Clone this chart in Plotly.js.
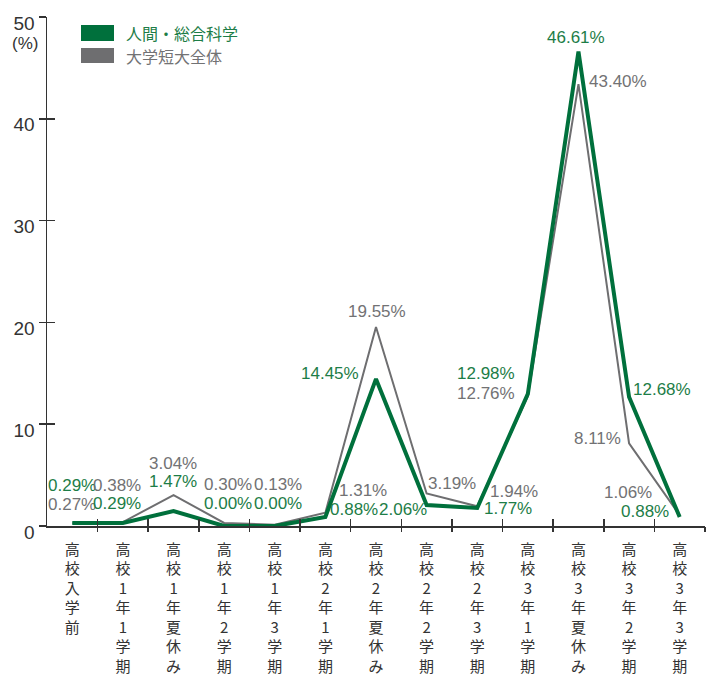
<!DOCTYPE html>
<html><head><meta charset="utf-8">
<script src="https://cdn.plot.ly/plotly-3.0.1.min.js"></script>
<style>html,body{margin:0;padding:0;background:#fff}</style>
</head><body><div id="chart" style="width:710px;height:677px"></div>
<script>
// ---- data ----
var categories = ['高校入学前','高校1年1学期','高校1年夏休み','高校1年2学期','高校1年3学期','高校2年1学期','高校2年夏休み','高校2年2学期','高校2年3学期','高校3年1学期','高校3年夏休み','高校3年2学期','高校3年3学期'];
var seriesNames = ['人間・総合科学','大学短大全体'];
var greenValues = [0.29,0.29,1.47,0.00,0.00,0.88,14.45,2.06,1.77,12.98,46.61,12.68,0.88];
var greyValues  = [0.27,0.38,3.04,0.30,0.13,1.31,19.55,3.19,1.94,12.76,43.40,8.11,1.06];
var yTicks = [0,10,20,30,40,50];

// label offsets (pixels) relative to each point
var greenDX = [0,-6,-1,4,3.5,29,-46,-24,31,-42,-2,33,-35];
var greenDY = [38,20,30,23,23,8,5,-4,-1,20,14.5,7,6];
var greyDX  = [0,-6,-1,4,3.5,38,1,25,37,-42,40,-32,-52];
var greyDY  = [19,37,32,38,40,22,15,10,15,3,3,5,23];

var GREEN = '#00703c', GREY = '#6e6e70';
var GREEN_T = '#1d7d47', GREY_T = '#727274';
var AX = '#333333';
var L = 47, R = 5, T = 17, B = 151, W = 710, H = 677;
var pw = W - L - R, ph = H - T - B;
function px2x(p){ return (p - L) / pw; }
function py2y(p){ return (H - B - p) / ph; }

var idx = categories.map(function(_, i){ return i; });
var vertical = categories.map(function(c){ return c.split('').join('<br>'); });

var traces = [
  {x: idx, y: greyValues, type: 'scatter', mode: 'lines', name: seriesNames[1],
   line: {color: GREY, width: 2}, hoverinfo: 'skip'},
  {x: idx, y: greenValues, type: 'scatter', mode: 'lines', name: seriesNames[0],
   line: {color: GREEN, width: 4}, hoverinfo: 'skip'},
  {x: [], y: [], xaxis: 'x2', yaxis: 'y2', type: 'scatter', showlegend: false},
  {x: [], y: [], xaxis: 'x3', yaxis: 'y3', type: 'scatter', showlegend: false}
];

var annotations = [];
idx.forEach(function(i){
  annotations.push({x: i, y: greenValues[i], xref: 'x', yref: 'y', showarrow: false,
    text: greenValues[i].toFixed(2) + '%', xshift: greenDX[i], yshift: greenDY[i],
    font: {family: 'Liberation Sans, Arial, sans-serif', size: 17, color: GREEN_T}});
  annotations.push({x: i, y: greyValues[i], xref: 'x', yref: 'y', showarrow: false,
    text: greyValues[i].toFixed(2) + '%', xshift: greyDX[i], yshift: greyDY[i],
    font: {family: 'Liberation Sans, Arial, sans-serif', size: 17, color: GREY_T}});
});
annotations.push({xref: 'paper', yref: 'paper', x: px2x(25), y: py2y(43), xanchor: 'center', yanchor: 'middle',
  showarrow: false, text: '(%)', font: {family: 'Liberation Sans, Arial, sans-serif', size: 17, color: AX}});
// legend texts
annotations.push({xref: 'paper', yref: 'paper', x: px2x(124), y: py2y(33), xanchor: 'left', yanchor: 'middle',
  showarrow: false, text: seriesNames[0], font: {family: 'Noto Sans CJK JP, sans-serif', size: 16, color: GREEN_T}});
annotations.push({xref: 'paper', yref: 'paper', x: px2x(124), y: py2y(56), xanchor: 'left', yanchor: 'middle',
  showarrow: false, text: seriesNames[1], font: {family: 'Noto Sans CJK JP, sans-serif', size: 16, color: GREY_T}});

var shapes = [
  {type: 'rect', xref: 'paper', yref: 'paper', x0: px2x(81), x1: px2x(114), y0: py2y(25), y1: py2y(41),
   fillcolor: GREEN, line: {width: 0}},
  {type: 'rect', xref: 'paper', yref: 'paper', x0: px2x(81), x1: px2x(114), y0: py2y(48), y1: py2y(63),
   fillcolor: GREY, line: {width: 0}}
];

var boundaries = [];
for (var b = 0.5; b <= categories.length - 0.5; b += 1) boundaries.push(b);

var layout = {
  width: W, height: H, autosize: false,
  margin: {l: L, r: R, t: T, b: B, pad: 0},
  paper_bgcolor: '#fff', plot_bgcolor: '#fff',
  showlegend: false,
  font: {family: 'Liberation Sans, Arial, sans-serif', color: AX},
  xaxis: {range: [-0.5, categories.length - 0.5], tickvals: idx, ticktext: vertical,
    ticks: '', showgrid: false, zeroline: false, showline: true, linecolor: AX, linewidth: 1.5,
    tickfont: {family: 'Noto Sans CJK JP, sans-serif', size: 15, color: AX},
    ticklabelstandoff: 9, fixedrange: true},
  yaxis: {range: [0, 50], tickvals: yTicks, ticks: 'outside', ticklen: 7, tickwidth: 1.5, tickcolor: AX,
    showgrid: false, zeroline: false, showline: true, linecolor: AX, linewidth: 1.5,
    tickfont: {size: 19, color: AX}, ticklabelshift: 6, fixedrange: true},
  xaxis2: {overlaying: 'x', anchor: 'y2', range: [-0.5, categories.length - 0.5], tickvals: boundaries,
    ticks: 'outside', ticklen: 5, tickwidth: 1.5, tickcolor: AX, showticklabels: false,
    showgrid: false, zeroline: false, showline: false},
  yaxis2: {overlaying: 'y', anchor: 'x2', range: [0, 50], tickvals: yTicks, ticks: 'inside', ticklen: 8,
    tickwidth: 1.5, tickcolor: AX, showticklabels: false, showgrid: false, zeroline: false, showline: false},
  xaxis3: {overlaying: 'x', anchor: 'y3', range: [-0.5, categories.length - 0.5], tickvals: boundaries,
    ticks: 'inside', ticklen: 7, tickwidth: 1.5, tickcolor: AX, showticklabels: false,
    showgrid: false, zeroline: false, showline: false},
  yaxis3: {overlaying: 'y', anchor: 'x3', range: [0, 50], tickvals: [], showticklabels: false,
    showgrid: false, zeroline: false, showline: false},
  annotations: annotations,
  shapes: shapes
};

Plotly.newPlot('chart', traces, layout, {staticPlot: true, displayModeBar: false});
</script></body></html>
